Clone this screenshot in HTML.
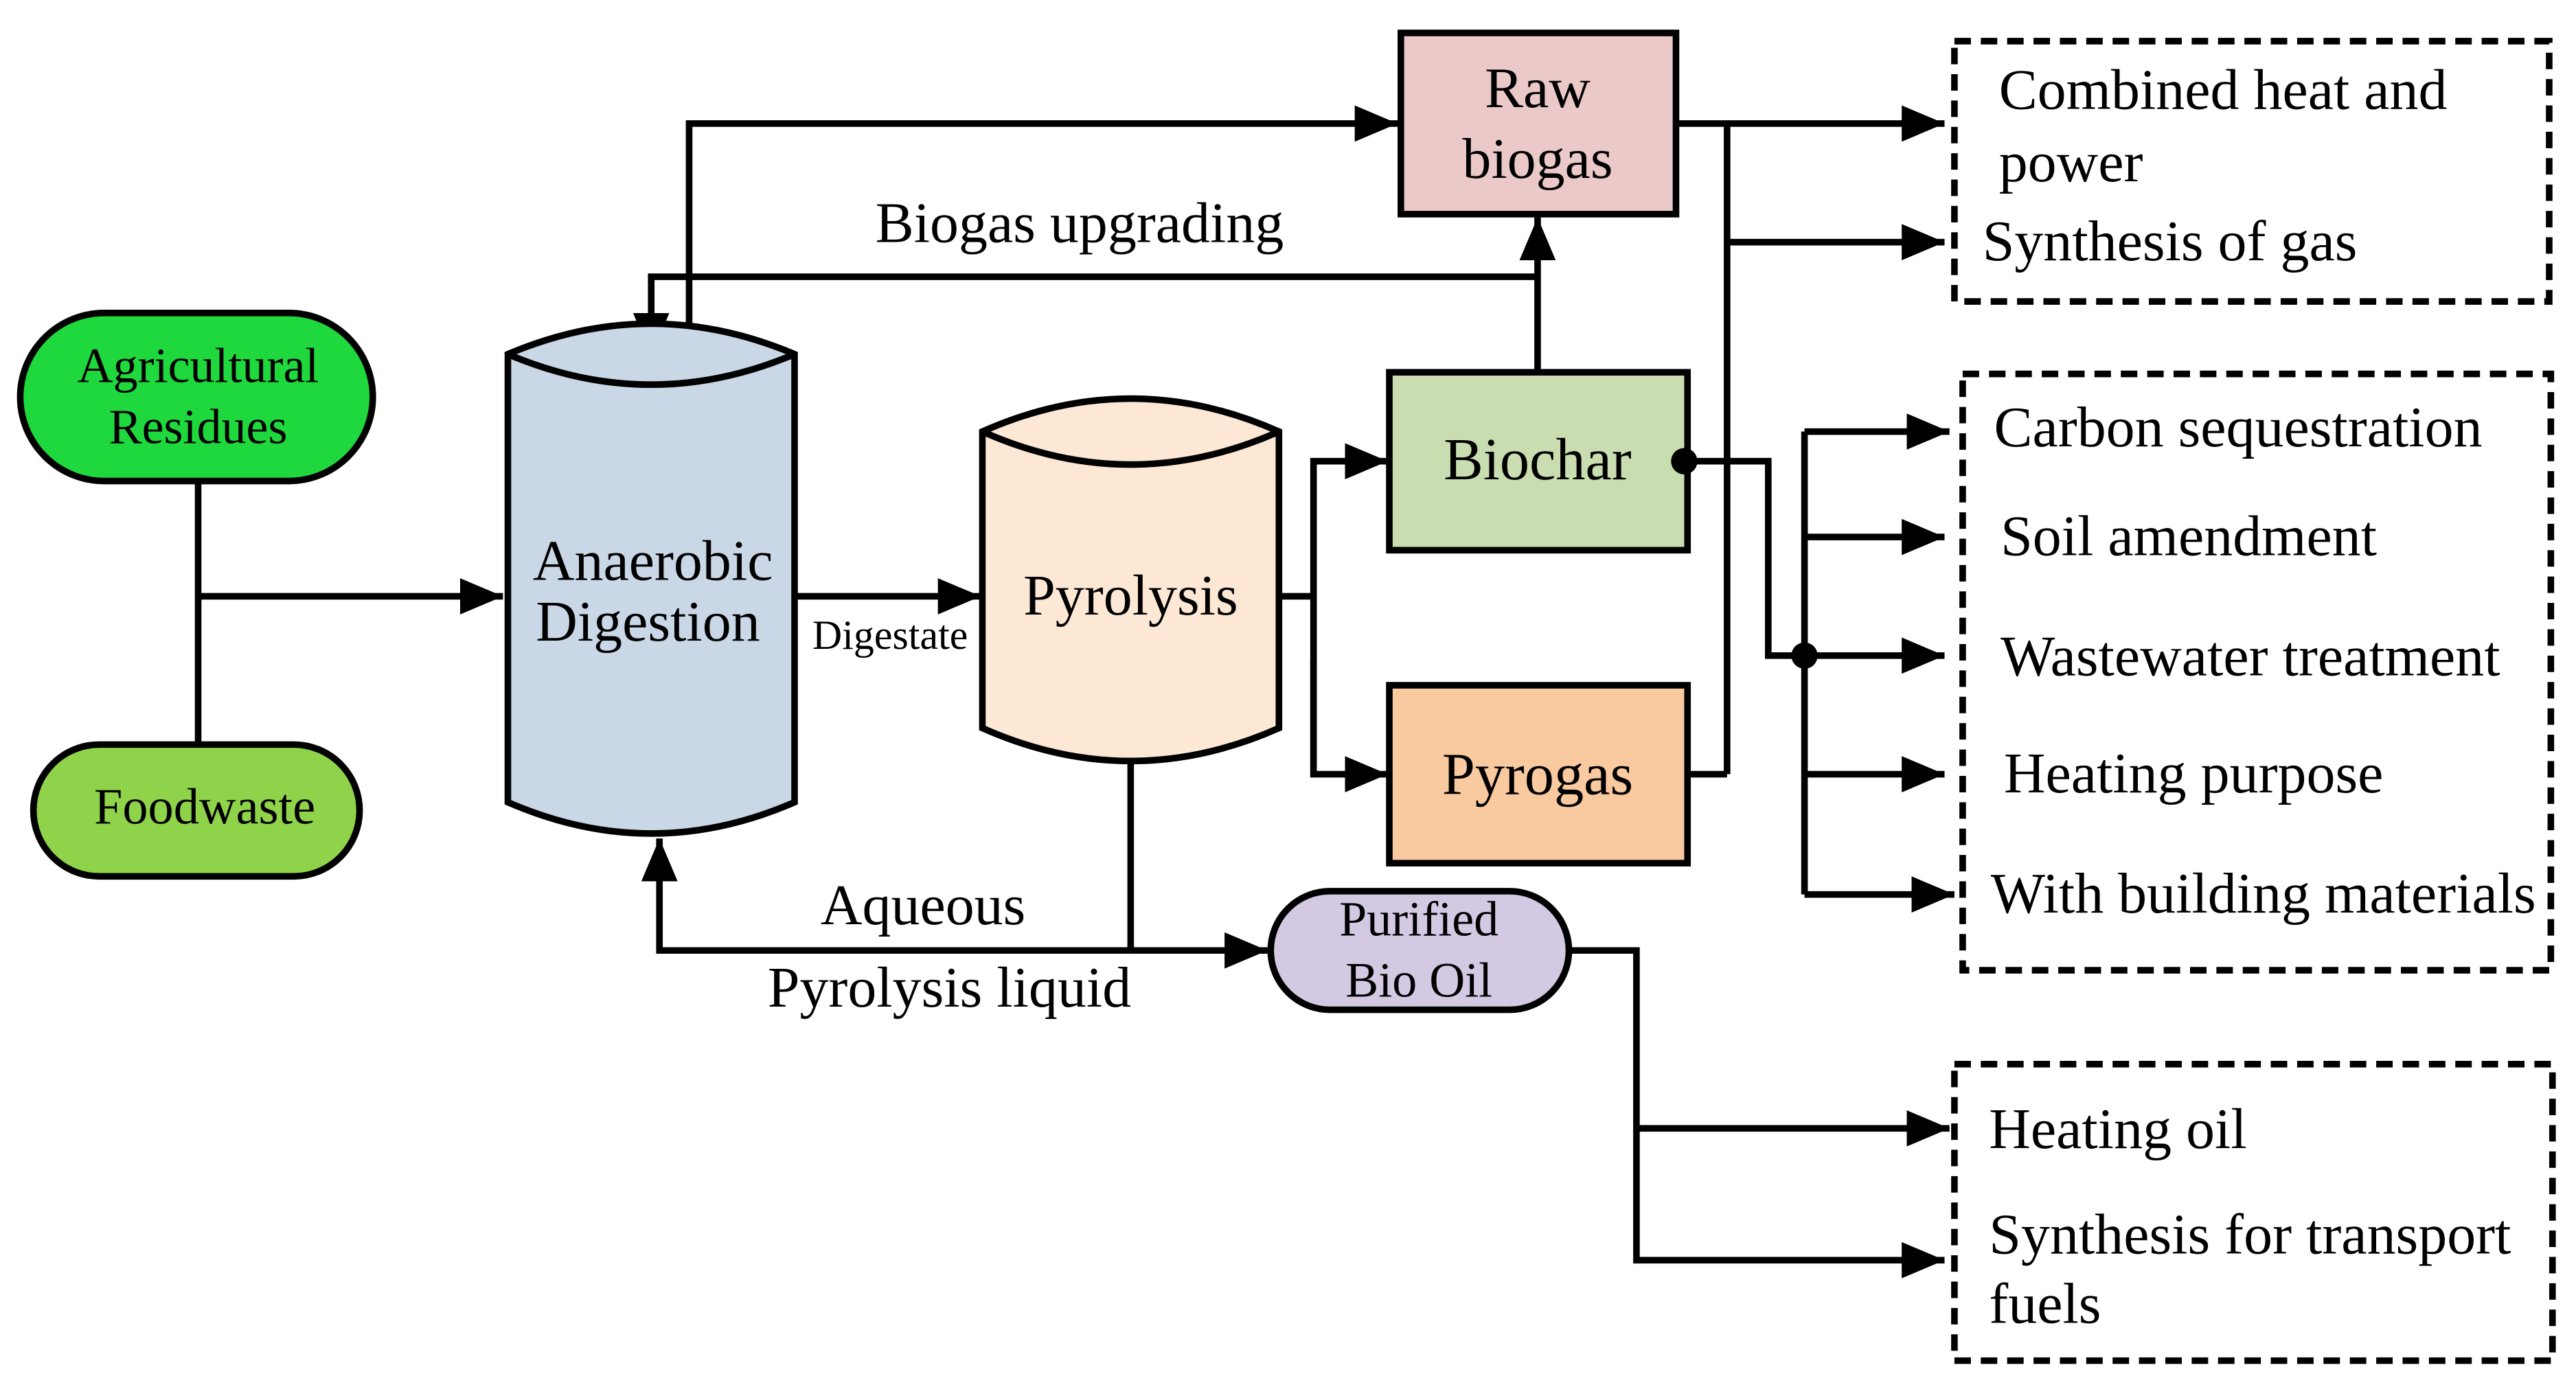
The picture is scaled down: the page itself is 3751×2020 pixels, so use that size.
<!DOCTYPE html>
<html><head><meta charset="utf-8"><style>html,body{margin:0;padding:0;background:#fff}svg{display:block}</style></head>
<body>
<svg width="3751" height="2020" viewBox="0 0 1563 842" xmlns="http://www.w3.org/2000/svg" font-family="'Liberation Serif', serif">
<defs>
<marker id="A" viewBox="0 0 10 10" refX="10" refY="5" markerWidth="26" markerHeight="22" orient="auto" markerUnits="userSpaceOnUse" preserveAspectRatio="none"><path d="M0,0 L10,5 L0,10 z" fill="#000"/></marker>
</defs>
<g stroke="#000" stroke-width="4" fill="none">
<line x1="120" y1="292" x2="120" y2="452"/>
<line x1="120" y1="362" x2="305" y2="362" marker-end="url(#A)"/>
<polyline points="418,205 418,75 848,75" marker-end="url(#A)"/>
<polyline points="933,168 395,168 395,216" marker-end="url(#A)"/>
<line x1="933" y1="226" x2="933" y2="132" marker-end="url(#A)"/>
<line x1="482" y1="362" x2="595" y2="362" marker-end="url(#A)"/>
<polyline points="776,362 797,362"/>
<polyline points="797,470 797,280 842,280" marker-end="url(#A)"/>
<polyline points="797,400 797,470 842,470" marker-end="url(#A)"/>
<line x1="1017" y1="75" x2="1180" y2="75" marker-end="url(#A)"/>
<line x1="1048" y1="75" x2="1048" y2="470"/>
<line x1="1024" y1="470" x2="1048" y2="470"/>
<line x1="1048" y1="147" x2="1180" y2="147" marker-end="url(#A)"/>
<polyline points="1022,280 1073,280 1073,398 1095,398"/>
<line x1="1095" y1="262" x2="1095" y2="543"/>
<line x1="1095" y1="262" x2="1183" y2="262" marker-end="url(#A)"/>
<line x1="1095" y1="326" x2="1180" y2="326" marker-end="url(#A)"/>
<line x1="1095" y1="398" x2="1180" y2="398" marker-end="url(#A)"/>
<line x1="1095" y1="470" x2="1180" y2="470" marker-end="url(#A)"/>
<line x1="1095" y1="543" x2="1186" y2="543" marker-end="url(#A)"/>
<line x1="686" y1="463" x2="686" y2="577"/>
<polyline points="686,577 400,577 400,509" marker-end="url(#A)"/>
<line x1="686" y1="577" x2="769" y2="577" marker-end="url(#A)"/>
<polyline points="952,577 993,577 993,765 1180,765" marker-end="url(#A)"/>
<line x1="993" y1="685" x2="1183" y2="685" marker-end="url(#A)"/>
</g>
<circle cx="1095" cy="398" r="8" fill="#000"/>
<g stroke="#000" stroke-width="4">
<rect x="12" y="190" width="214" height="102" rx="51" fill="#1fd83d"/>
<rect x="20" y="452" width="198" height="80" rx="40" fill="#8fd34a"/>
<path d="M308,215 Q395,178 482,215 L482,487 Q395,525 308,487 Z" fill="#c9d7e6"/>
<path d="M308,215 Q395,252 482,215" fill="none"/>
<path d="M596,262 Q686,222 776,262 L776,442 Q686,482 596,442 Z" fill="#fde8d6"/>
<path d="M596,262 Q686,302 776,262" fill="none"/>
<rect x="850" y="20" width="167" height="110" fill="#ebc9c9"/>
<rect x="843" y="226" width="181" height="108" fill="#c9ddb0"/>
<rect x="843" y="416" width="181" height="108" fill="#f9c9a0"/>
<rect x="771" y="541" width="181" height="72" rx="36" fill="#d4c9e3"/>
</g>
<circle cx="1022" cy="280" r="8" fill="#000"/>
<g stroke="#000" stroke-width="4" stroke-dasharray="10,6" fill="none">
<rect x="1186" y="25" width="361" height="158"/>
<rect x="1191" y="227" width="357" height="362"/>
<rect x="1186" y="646" width="363" height="180"/>
</g>
<g font-size="30" fill="#000" text-anchor="middle">
<text x="120" y="232">Agricultural</text>
<text x="120" y="269">Residues</text>
<text x="124" y="500" font-size="31">Foodwaste</text>
<text x="396" y="352" font-size="35">Anaerobic</text>
<text x="393" y="389" font-size="35">Digestion</text>
<text x="686" y="373" font-size="35">Pyrolysis</text>
<text x="933" y="65" font-size="35">Raw</text>
<text x="933" y="108" font-size="35">biogas</text>
<text x="933" y="291" font-size="36">Biochar</text>
<text x="933" y="482" font-size="36">Pyrogas</text>
<text x="861" y="568" font-size="30">Purified</text>
<text x="861" y="605" font-size="30">Bio Oil</text>
<text x="655" y="147" font-size="35">Biogas upgrading</text>
<text x="540" y="394" font-size="25">Digestate</text>
<text x="560" y="561" font-size="35">Aqueous</text>
<text x="576" y="611" font-size="35">Pyrolysis liquid</text>
</g>
<g font-size="35" fill="#000">
<text x="1213" y="66">Combined heat and</text>
<text x="1213" y="110">power</text>
<text x="1203" y="158">Synthesis of gas</text>
<text x="1210" y="271">Carbon sequestration</text>
<text x="1214" y="337">Soil amendment</text>
<text x="1214" y="410">Wastewater treatment</text>
<text x="1216" y="481">Heating purpose</text>
<text x="1208" y="554">With building materials</text>
<text x="1207" y="697">Heating oil</text>
<text x="1207" y="761">Synthesis for transport</text>
<text x="1207" y="803">fuels</text>
</g>
</svg>
</body></html>
